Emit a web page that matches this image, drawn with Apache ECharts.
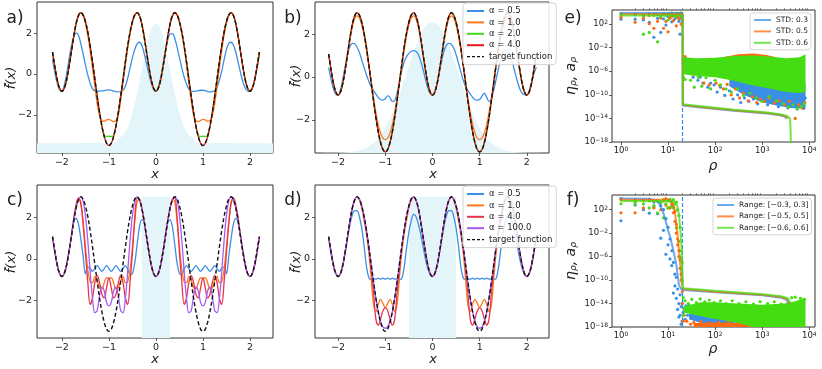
<!DOCTYPE html>
<html>
<head>
<meta charset="utf-8">
<title>fig</title>
<script src="https://cdn.jsdelivr.net/npm/echarts@6.0.0/dist/echarts.min.js"></script>
<style>
  html, body { margin: 0; padding: 0; background: #fff; }
  #chart { width: 822px; height: 369px; }
</style>
</head>
<body>
<div id="chart"></div>
<script>
  // ---- panels a-d : sample positions and curves ----
  const xGrid = [
    -2.2, -2.15, -2.1, -2.05, -2.0, -1.95, -1.9, -1.85, -1.8,
    -1.75, -1.7, -1.65, -1.6, -1.55, -1.5, -1.45, -1.4, -1.35,
    -1.3, -1.25, -1.2, -1.15, -1.1, -1.05, -1.0, -0.95, -0.9,
    -0.85, -0.8, -0.75, -0.7, -0.65, -0.6, -0.55, -0.5, -0.45,
    -0.4, -0.35, -0.3, -0.25, -0.2, -0.15, -0.1, -0.05, 0,
    0.05, 0.1, 0.15, 0.2, 0.25, 0.3, 0.35, 0.4, 0.45,
    0.5, 0.55, 0.6, 0.65, 0.7, 0.75, 0.8, 0.85, 0.9,
    0.95, 1.0, 1.05, 1.1, 1.15, 1.2, 1.25, 1.3, 1.35,
    1.4, 1.45, 1.5, 1.55, 1.6, 1.65, 1.7, 1.75, 1.8,
    1.85, 1.9, 1.95, 2.0, 2.05, 2.1, 2.15, 2.2
  ];

  const target = [
    1.07, 0.34, -0.29, -0.70, -0.85, -0.70, -0.29, 0.34, 1.07,
    1.81, 2.44, 2.85, 3.00, 2.89, 2.56, 2.05, 1.38, 0.59,
    -0.25, -1.09, -1.88, -2.55, -3.06, -3.39, -3.50, -3.39, -3.06,
    -2.55, -1.88, -1.09, -0.25, 0.59, 1.38, 2.05, 2.56, 2.89,
    3.00, 2.85, 2.44, 1.81, 1.07, 0.34, -0.29, -0.70, -0.85,
    -0.70, -0.29, 0.34, 1.07, 1.81, 2.44, 2.85, 3.00, 2.89,
    2.56, 2.05, 1.38, 0.59, -0.25, -1.09, -1.88, -2.55, -3.06,
    -3.39, -3.50, -3.39, -3.06, -2.55, -1.88, -1.09, -0.25, 0.59,
    1.38, 2.05, 2.56, 2.89, 3.00, 2.85, 2.44, 1.81, 1.07,
    0.34, -0.29, -0.70, -0.85, -0.70, -0.29, 0.34, 1.07
  ];

  const aBlue = [
    0.72, 0.05, -0.45, -0.78, -0.85, -0.55, 0.00, 0.70, 1.35,
    1.80, 2.00, 1.90, 1.50, 1.00, 0.45, -0.05, -0.45, -0.72,
    -0.83, -0.84, -0.84, -0.83, -0.82, -0.79, -0.78, -0.80, -0.84,
    -0.87, -0.88, -0.86, -0.80, -0.60, -0.20, 0.30, 0.80, 1.20,
    1.47, 1.55, 1.40, 1.00, 0.50, 0.00, -0.45, -0.75, -0.85,
    -0.65, -0.20, 0.45, 1.10, 1.65, 1.95, 1.97, 1.75, 1.30,
    0.80, 0.30, -0.15, -0.50, -0.75, -0.84, -0.85, -0.84, -0.82,
    -0.80, -0.80, -0.82, -0.86, -0.88, -0.86, -0.82, -0.65, -0.30,
    0.15, 0.70, 1.20, 1.50, 1.55, 1.40, 1.05, 0.55, 0.05,
    -0.40, -0.70, -0.83, -0.85, -0.68, -0.28, 0.30, 0.92
  ];
  const aOrange = [
    1.07, 0.34, -0.29, -0.70, -0.85, -0.70, -0.29, 0.34, 1.07,
    1.81, 2.44, 2.85, 3.00, 2.86, 2.48, 1.90, 1.15, 0.30,
    -0.60, -1.45, -2.05, -2.28, -2.32, -2.25, -2.22, -2.28, -2.33,
    -2.28, -2.00, -1.30, -0.45, 0.45, 1.30, 2.00, 2.52, 2.87,
    3.00, 2.85, 2.44, 1.81, 1.07, 0.34, -0.29, -0.70, -0.85,
    -0.70, -0.29, 0.34, 1.07, 1.81, 2.44, 2.85, 3.00, 2.87,
    2.52, 2.00, 1.30, 0.45, -0.45, -1.30, -2.00, -2.28, -2.33,
    -2.28, -2.22, -2.25, -2.32, -2.28, -2.05, -1.45, -0.60, 0.30,
    1.15, 1.90, 2.48, 2.86, 3.00, 2.85, 2.44, 1.81, 1.07,
    0.34, -0.29, -0.70, -0.85, -0.70, -0.29, 0.34, 1.07
  ];
  const aGreen = [
    1.07, 0.34, -0.29, -0.70, -0.85, -0.70, -0.29, 0.34, 1.07,
    1.81, 2.44, 2.85, 3.00, 2.89, 2.56, 2.05, 1.38, 0.59,
    -0.25, -1.09, -1.88, -2.55, -3.00, -3.06, -3.05, -3.06, -3.00,
    -2.55, -1.88, -1.09, -0.25, 0.59, 1.38, 2.05, 2.56, 2.89,
    3.00, 2.85, 2.44, 1.81, 1.07, 0.34, -0.29, -0.70, -0.85,
    -0.70, -0.29, 0.34, 1.07, 1.81, 2.44, 2.85, 3.00, 2.89,
    2.56, 2.05, 1.38, 0.59, -0.25, -1.09, -1.88, -2.55, -3.00,
    -3.06, -3.05, -3.06, -3.00, -2.55, -1.88, -1.09, -0.25, 0.59,
    1.38, 2.05, 2.56, 2.89, 3.00, 2.85, 2.44, 1.81, 1.07,
    0.34, -0.29, -0.70, -0.85, -0.70, -0.29, 0.34, 1.07
  ];

  const bBlue = [
    0.45, -0.10, -0.55, -0.80, -0.85, -0.60, -0.10, 0.50, 1.05,
    1.42, 1.57, 1.55, 1.40, 1.15, 0.80, 0.45, 0.10, -0.20,
    -0.45, -0.62, -0.80, -0.95, -1.05, -1.08, -1.02, -0.88, -0.95,
    -1.15, -1.10, -0.75, -0.20, 0.30, 0.70, 0.95, 1.10, 1.20,
    1.23, 1.20, 1.05, 0.75, 0.35, -0.10, -0.50, -0.77, -0.85,
    -0.70, -0.30, 0.25, 0.80, 1.25, 1.50, 1.57, 1.52, 1.35,
    1.05, 0.65, 0.25, -0.15, -0.45, -0.62, -0.80, -0.95, -1.05,
    -1.08, -1.05, -0.90, -0.75, -0.95, -1.15, -1.00, -0.60, -0.10,
    0.40, 0.85, 1.15, 1.25, 1.20, 1.00, 0.65, 0.20, -0.20,
    -0.55, -0.75, -0.83, -0.85, -0.65, -0.25, 0.15, 0.45
  ];
  const bOrange = [
    1.05, 0.33, -0.29, -0.70, -0.85, -0.70, -0.29, 0.32, 1.03,
    1.72, 2.32, 2.72, 2.85, 2.75, 2.43, 1.93, 1.28, 0.55,
    -0.22, -0.98, -1.65, -2.22, -2.62, -2.86, -2.93, -2.86, -2.62,
    -2.22, -1.65, -0.98, -0.22, 0.55, 1.28, 1.93, 2.43, 2.75,
    2.85, 2.72, 2.32, 1.72, 1.03, 0.32, -0.29, -0.70, -0.85,
    -0.70, -0.29, 0.32, 1.03, 1.72, 2.32, 2.72, 2.85, 2.75,
    2.43, 1.93, 1.28, 0.55, -0.22, -0.98, -1.65, -2.22, -2.62,
    -2.86, -2.93, -2.86, -2.62, -2.22, -1.65, -0.98, -0.22, 0.55,
    1.28, 1.93, 2.43, 2.75, 2.85, 2.72, 2.32, 1.72, 1.03,
    0.32, -0.29, -0.70, -0.85, -0.70, -0.29, 0.33, 1.05
  ];

  const cBlue = [
    1.07, 0.34, -0.29, -0.70, -0.85, -0.70, -0.29, 0.34, 1.07,
    1.75, 1.96, 1.70, 1.00, 0.15, -0.72, -0.38, -0.45, -0.60,
    -0.47, -0.32, -0.47, -0.60, -0.47, -0.32, -0.47, -0.60, -0.47,
    -0.32, -0.47, -0.60, -0.47, -0.32, -0.50, -0.75, -0.70, -0.20,
    0.70, 1.55, 1.90, 1.78, 1.07, 0.34, -0.29, -0.70, -0.85,
    -0.70, -0.29, 0.34, 1.07, 1.78, 1.90, 1.55, 0.70, -0.20,
    -0.70, -0.75, -0.50, -0.32, -0.47, -0.60, -0.47, -0.32, -0.47,
    -0.60, -0.47, -0.32, -0.47, -0.60, -0.47, -0.32, -0.47, -0.60,
    -0.45, -0.38, -0.72, 0.15, 1.00, 1.70, 1.96, 1.75, 1.07,
    0.34, -0.29, -0.70, -0.85, -0.70, -0.29, 0.34, 1.07
  ];
  const cOrange = [
    1.07, 0.34, -0.29, -0.70, -0.85, -0.70, -0.29, 0.34, 1.07,
    1.81, 2.50, 2.90, 2.75, 1.80, 0.60, -0.50, -1.10, -1.15,
    -0.85, -1.05, -1.40, -1.45, -1.15, -0.90, -0.95, -0.90, -1.15,
    -1.45, -1.40, -1.05, -0.85, -1.15, -1.10, -0.50, 0.60, 1.80,
    2.75, 2.90, 2.44, 1.81, 1.07, 0.34, -0.29, -0.70, -0.85,
    -0.70, -0.29, 0.34, 1.07, 1.81, 2.44, 2.90, 2.75, 1.80,
    0.60, -0.50, -1.10, -1.15, -0.85, -1.05, -1.40, -1.45, -1.15,
    -0.90, -0.95, -0.90, -1.15, -1.45, -1.40, -1.05, -0.85, -1.15,
    -1.10, -0.50, 0.60, 1.80, 2.75, 2.90, 2.50, 1.81, 1.07,
    0.34, -0.29, -0.70, -0.85, -0.70, -0.29, 0.34, 1.07
  ];
  const cRed = [
    1.07, 0.34, -0.29, -0.70, -0.85, -0.70, -0.29, 0.34, 1.07,
    1.95, 2.60, 2.95, 2.70, 1.70, 0.30, -1.10, -2.20, -1.90,
    -1.15, -0.80, -1.15, -1.70, -1.88, -1.40, -0.90, -1.40, -1.88,
    -1.70, -1.15, -0.80, -1.15, -1.90, -2.20, -1.10, 0.30, 2.00,
    2.95, 2.85, 2.44, 1.81, 1.07, 0.34, -0.29, -0.70, -0.85,
    -0.70, -0.29, 0.34, 1.07, 1.81, 2.44, 2.85, 2.95, 2.00,
    0.30, -1.10, -2.20, -1.90, -1.15, -0.80, -1.15, -1.70, -1.88,
    -1.40, -0.90, -1.40, -1.88, -1.70, -1.15, -0.80, -1.15, -1.90,
    -2.20, -1.10, 0.30, 1.70, 2.70, 2.95, 2.60, 1.95, 1.07,
    0.34, -0.29, -0.70, -0.85, -0.70, -0.29, 0.34, 1.07
  ];
  const cPurple = [
    1.07, 0.34, -0.29, -0.70, -0.85, -0.70, -0.29, 0.34, 1.07,
    1.81, 2.44, 2.85, 3.00, 2.80, 2.10, 0.90, -0.60, -1.90,
    -2.60, -2.50, -1.80, -1.35, -1.55, -2.10, -2.27, -2.10, -1.55,
    -1.35, -1.80, -2.50, -2.60, -1.90, -0.60, 0.90, 2.10, 2.80,
    3.00, 2.85, 2.44, 1.81, 1.07, 0.34, -0.29, -0.70, -0.85,
    -0.70, -0.29, 0.34, 1.07, 1.81, 2.44, 2.85, 3.00, 2.80,
    2.10, 0.90, -0.60, -1.90, -2.60, -2.50, -1.80, -1.35, -1.55,
    -2.10, -2.27, -2.10, -1.55, -1.35, -1.80, -2.50, -2.60, -1.90,
    -0.60, 0.90, 2.10, 2.80, 3.00, 2.85, 2.44, 1.81, 1.07,
    0.34, -0.29, -0.70, -0.85, -0.70, -0.29, 0.34, 1.07
  ];

  const dBlue = [
    0.95, 0.25, -0.33, -0.72, -0.85, -0.72, -0.33, 0.30, 1.00,
    1.65, 2.12, 2.33, 2.33, 2.05, 1.50, 0.65, -0.35, -0.90,
    -1.00, -0.95, -0.98, -0.93, -0.98, -0.93, -0.98, -0.93, -0.98,
    -0.93, -0.98, -0.95, -1.00, -0.95, -0.40, 0.50, 1.30, 1.85,
    2.15, 2.05, 1.70, 1.20, 0.60, 0.00, -0.45, -0.75, -0.85,
    -0.72, -0.33, 0.30, 1.00, 1.65, 2.12, 2.33, 2.33, 2.05,
    1.50, 0.65, -0.35, -0.90, -1.00, -0.95, -0.98, -0.93, -0.98,
    -0.93, -0.98, -0.93, -0.98, -0.93, -0.98, -0.95, -1.00, -0.95,
    -0.40, 0.50, 1.30, 1.85, 2.15, 2.05, 1.70, 1.20, 0.60,
    0.00, -0.45, -0.75, -0.85, -0.72, -0.33, 0.30, 0.95
  ];
  const dOrange = [
    1.07, 0.34, -0.29, -0.70, -0.85, -0.70, -0.29, 0.34, 1.07,
    1.81, 2.44, 2.85, 3.00, 2.85, 2.45, 1.85, 1.20, 0.30,
    -0.90, -2.20, -2.55, -2.20, -1.95, -2.15, -2.35, -2.15, -1.95,
    -2.20, -2.55, -2.20, -0.90, 0.30, 1.20, 1.85, 2.45, 2.85,
    3.00, 2.85, 2.44, 1.81, 1.07, 0.34, -0.29, -0.70, -0.85,
    -0.70, -0.29, 0.34, 1.07, 1.81, 2.44, 2.85, 3.00, 2.85,
    2.45, 1.85, 1.20, 0.30, -0.90, -2.20, -2.55, -2.20, -1.95,
    -2.15, -2.35, -2.15, -1.95, -2.20, -2.55, -2.20, -0.90, 0.30,
    1.20, 1.85, 2.45, 2.85, 3.00, 2.85, 2.44, 1.81, 1.07,
    0.34, -0.29, -0.70, -0.85, -0.70, -0.29, 0.34, 1.07
  ];
  const dRed = [
    1.07, 0.34, -0.29, -0.70, -0.85, -0.70, -0.29, 0.34, 1.07,
    1.81, 2.44, 2.85, 3.00, 2.89, 2.56, 2.05, 1.38, 0.59,
    -0.50, -1.60, -2.90, -3.20, -2.90, -2.50, -2.35, -2.50, -2.90,
    -3.20, -2.90, -1.60, -0.50, 0.59, 1.38, 2.05, 2.56, 2.89,
    3.00, 2.85, 2.44, 1.81, 1.07, 0.34, -0.29, -0.70, -0.85,
    -0.70, -0.29, 0.34, 1.07, 1.81, 2.44, 2.85, 3.00, 2.89,
    2.56, 2.05, 1.38, 0.59, -0.50, -1.60, -2.90, -3.20, -2.90,
    -2.50, -2.35, -2.50, -2.90, -3.20, -2.90, -1.60, -0.50, 0.59,
    1.38, 2.05, 2.56, 2.89, 3.00, 2.85, 2.44, 1.81, 1.07,
    0.34, -0.29, -0.70, -0.85, -0.70, -0.29, 0.34, 1.07
  ];
  const dPurple = [
    1.07, 0.34, -0.29, -0.70, -0.85, -0.70, -0.29, 0.34, 1.07,
    1.81, 2.44, 2.85, 3.00, 2.89, 2.56, 2.05, 1.38, 0.59,
    -0.25, -1.09, -1.88, -2.55, -3.00, -3.28, -3.35, -3.28, -3.00,
    -2.55, -1.88, -1.09, -0.25, 0.59, 1.38, 2.05, 2.56, 2.89,
    3.00, 2.85, 2.44, 1.81, 1.07, 0.34, -0.29, -0.70, -0.85,
    -0.70, -0.29, 0.34, 1.07, 1.81, 2.44, 2.85, 3.00, 2.89,
    2.56, 2.05, 1.38, 0.59, -0.25, -1.09, -1.88, -2.55, -3.00,
    -3.28, -3.35, -3.28, -3.00, -2.55, -1.88, -1.09, -0.25, 0.59,
    1.38, 2.05, 2.56, 2.89, 3.00, 2.85, 2.44, 1.81, 1.07,
    0.34, -0.29, -0.70, -0.85, -0.70, -0.29, 0.34, 1.07
  ];

  // input distributions shown as shading
  const aShadeX = [-2.55, -0.9, -0.8, -0.7, -0.6, -0.5, -0.4, -0.3, -0.2, -0.1, 0, 0.1, 0.2, 0.3, 0.4, 0.5, 0.6, 0.7, 0.8, 0.9, 2.55];
  const aShadeY = [-3.40, -3.36, -3.20, -2.98, -2.58, -1.91, -0.96, 0.19, 1.32, 2.17, 2.49, 2.17, 1.32, 0.19, -0.96, -1.91, -2.58, -2.98, -3.20, -3.36, -3.40];
  const bShadeX = [-2.55, -1.9, -1.6, -1.4, -1.2, -1.0, -0.9, -0.8, -0.7, -0.6, -0.5, -0.4, -0.3, -0.2, -0.1, 0, 0.1, 0.2, 0.3, 0.4, 0.5, 0.6, 0.7, 0.8, 0.9, 1.0, 1.2, 1.4, 1.6, 1.9, 2.55];
  const bShadeY = [-3.55, -3.53, -3.46, -3.31, -2.98, -2.38, -1.95, -1.43, -0.83, -0.17, 0.50, 1.15, 1.72, 2.18, 2.47, 2.57, 2.47, 2.18, 1.72, 1.15, 0.50, -0.17, -0.83, -1.43, -1.95, -2.38, -2.98, -3.31, -3.46, -3.53, -3.55];
  const cBox = [-0.3, 0.3];
  const dBox = [-0.5, 0.5];
  const boxTop = [3.0, 3.0];

  // ---- panels e, f : rho vs eta_rho / a_rho ----
  const rhoCut = 20;
  const eLine03 = [[1, 8e3], [20.3, 8e3], [20.6, 1.5e-12], [50, 7e-13], [250, 2e-13], [1260, 7e-14], [2400, 3.5e-14], [3000, 2e-14], [3300, 1e-14]];
  const eLine05 = [[1, 5e3], [20.3, 5e3], [20.6, 2e-12], [50, 9e-13], [250, 2.5e-13], [1260, 8e-14], [2400, 4e-14], [3200, 2e-14], [3500, 1e-14]];
  const eLine06 = [[1, 3e3], [20.3, 3e3], [20.6, 2.5e-12], [50, 1.2e-12], [250, 3e-13], [1260, 1e-13], [2400, 5e-14], [3400, 2.5e-14], [3900, 1e-14], [4000, 1e-16], [4050, 1e-19]];

  const eGreenTop = [[21, 2.5e-4], [40, 1.6e-4], [100, 2e-4], [250, 4e-4], [630, 5e-4], [1600, 3e-4], [3200, 1.6e-4], [6300, 2.5e-4], [8300, 8e-4]];
  const eGreenBottom = [[21, 3e-7], [40, 1.6e-7], [100, 1e-7], [250, 2.5e-8], [630, 4e-9], [1600, 1e-9], [3200, 3e-10], [6300, 2e-10], [8300, 3e-10]];
  const eBlueTop = [[200, 1e-7], [1000, 1e-8], [8300, 1e-8]];
  const eBlueBottom = [[200, 3e-9], [400, 1e-10], [1000, 5e-12], [2000, 1.6e-12], [4000, 6e-13], [8300, 5e-13]];
  const eOrangeTop = [[160, 3e-4], [320, 8e-4], [630, 1e-3], [1250, 6e-4], [2000, 2.5e-4]];
  const eOrangeBottom = [[160, 1.6e-4], [2000, 1.3e-4]];

  const eBlueDots = [
    [1, 7e2], [1, 6e3], [2, 7e2], [2, 4e3], [3, 5e2], [3, 3e3], [4, 2e2], [5, 0.6], [5, 5e3], [6, 1e3], [7, 4], [7, 3e3],
    [8, 8e2], [9, 70], [9, 4e3], [10, 2e3], [11, 5e3], [12, 2.5e2], [13, 3e3], [14, 8e2], [15, 6e3], [16, 1.5e3], [17, 3e2],
    [18, 2], [18, 4e3], [19, 1e3], [20, 3e2],
    [21, 3e-5], [22, 1e-6], [23, 2e-4], [24, 3e-6], [26, 5e-5], [28, 1e-6], [31, 8e-6], [34, 1e-7], [38, 2e-6], [43, 3e-8],
    [48, 1e-7], [55, 1e-8], [62, 3e-7], [70, 2e-9], [80, 1e-8], [95, 5e-9], [110, 3e-10], [130, 2e-9], [160, 8e-11],
    [200, 5e-10], [240, 2e-11], [300, 1e-10], [350, 5e-12], [420, 3e-11], [520, 8e-12], [650, 2e-11], [800, 3e-12],
    [1000, 1e-11], [1300, 2e-12], [1700, 5e-12], [2200, 1e-12], [2800, 3e-12], [3500, 6e-13], [4500, 2e-12],
    [5500, 4e-13], [6500, 1.5e-12], [7500, 5e-13], [8200, 3e-11]
  ];
  const eOrangeDots = [
    [1, 1.5e3], [2, 2e2], [3, 1e3], [4, 1.2e2], [4, 3e3], [5, 2e1], [6, 3e2], [6, 4e3], [7, 1e3], [8, 2e1], [8, 5e3],
    [9, 3e2], [10, 5], [11, 1e3], [12, 2e3], [13, 4e2], [14, 4e3], [15, 50], [16, 2e3], [17, 8e2], [18, 6e3], [19, 1e2], [20, 1e3],
    [21, 1e-4], [22, 8e-6], [23, 3e-4], [25, 3e-6], [27, 4e-5], [30, 1e-6], [34, 3e-7], [38, 5e-5], [42, 2e-6], [50, 3e-7],
    [58, 1e-8], [66, 1e-6], [75, 5e-9], [90, 2e-7], [105, 1e-8], [125, 4e-9], [150, 1e-9], [180, 6e-9], [220, 1e-10],
    [270, 1e-9], [330, 3e-11], [400, 2e-10], [500, 1e-11], [620, 5e-11], [760, 5e-12], [900, 2e-11], [1100, 8e-12],
    [1400, 3e-11], [1800, 4e-12], [2300, 1e-11], [3000, 2e-12], [3800, 8e-12], [5000, 1e-14], [6000, 2e-12], [7000, 6e-13], [8000, 5e-12]
  ];
  const eGreenDots = [
    [1, 4e3], [2, 5e3], [3, 2], [3, 3e3], [4, 4], [4, 6e3], [5, 3e3], [6, 0.1], [6, 5e3], [7, 2e3], [8, 6e3], [9, 3e3],
    [10, 5e2], [10, 6e3], [11, 3e3], [12, 8e3], [13, 5e3], [14, 2e3], [15, 7e3], [16, 4e3], [17, 6e3], [18, 3e3], [19, 8e3], [20, 2e3],
    [21, 1e-7], [23, 4e-8], [26, 1e-6], [30, 3e-8], [36, 2e-9], [44, 1e-7], [52, 3e-9], [64, 8e-8], [80, 1e-9], [100, 3e-8],
    [130, 5e-9], [170, 1e-9], [220, 3e-10], [300, 1e-9], [400, 8e-11], [550, 2e-10], [750, 3e-11], [1000, 8e-12],
    [1400, 5e-11], [2000, 1e-11], [2800, 3e-12], [3600, 8e-13], [4500, 2e-12], [5600, 5e-13], [6800, 1e-12], [7800, 3e-12]
  ];

  const fLine03 = [[1, 8e3], [4, 7e3], [5.5, 4e3], [6.5, 1e3], [7.5, 1e2], [8.5, 5], [10, 3e-2], [11.2, 1.6e-3], [13, 1e-5], [15, 4e-8], [17, 1.6e-11], [19, 3e-12], [21, 2e-12], [100, 8e-13], [1000, 2.5e-13], [2500, 1e-13], [3200, 5e-14], [3600, 1e-14]];
  const fLine05 = [[1, 5e3], [10, 5e3], [12, 3e3], [13.5, 2e2], [14.5, 4], [16.2, 1.6e-3], [18.2, 4e-8], [19.5, 3e-11], [21, 3e-12], [100, 1e-12], [1000, 3e-13], [2500, 1.3e-13], [3400, 6e-14], [3800, 1e-14]];
  const fLine06 = [[1, 3e3], [13, 3e3], [15, 1.5e3], [17, 2e1], [18.5, 1e-2], [19.5, 1e-5], [20.3, 1e-9], [20.8, 4e-12], [100, 1.5e-12], [1000, 4e-13], [2500, 1.8e-13], [3500, 8e-14], [3900, 1.5e-14]];

  const fGreenTop = [[21, 3e-15], [30, 6e-15], [50, 1.6e-14], [100, 1.6e-14], [300, 1e-14], [1000, 6e-15], [3000, 1e-14], [5000, 2.5e-14], [8300, 1e-13]];
  const fGreenBottom = [[21, 3e-16], [40, 1e-16], [80, 3e-17], [200, 1e-17], [400, 3e-18], [600, 1e-18], [8300, 1e-18]];
  const fBlueTop = [[28, 2e-16], [60, 2e-16], [140, 1e-16], [280, 3e-17]];
  const fBlueBottom = [[28, 2e-17], [60, 3e-18], [140, 3e-18], [280, 6e-18]];
  const fOrangeTop = [[35, 5e-18], [100, 6e-18], [300, 5e-18], [700, 3e-18]];
  const fOrangeBottom = [[35, 1e-18], [700, 1e-18]];

  const fBlueDots = [
    [1, 1.3], [1, 8e3], [2, 5e3], [2, 6e2], [3, 4e3], [3, 1e2], [4, 25], [4, 6e3], [5, 2e3], [5, 3e2], [6, 3e3], [6, 20],
    [7, 1.4e-3], [7, 5e2], [8, 3e-2], [8, 1e2], [9, 2.5e-6], [9, 3], [10, 1e-1], [10, 1e-4], [11, 4e-7], [11, 1e-3],
    [12, 1e-5], [12, 3e-8], [13, 6e-13], [13, 1e-7], [14, 1e-9], [14, 1e-11], [15, 8e-14], [15, 3e-10], [16, 3e-12],
    [16, 1e-15], [17, 1e-14], [17, 5e-17], [18, 1e-16], [18, 3e-13], [19, 3e-15], [19, 3e-18], [20, 1e-17], [20, 1e-14], [21, 3e-16],
    [22, 1e-15], [23, 2e-17], [24, 4e-15], [26, 1e-16], [28, 5e-15], [31, 3e-17], [34, 1e-15], [38, 3e-16], [45, 1e-15],
    [52, 3e-17], [60, 6e-16], [70, 2e-16], [85, 1e-15], [100, 5e-17], [120, 4e-16], [150, 2e-17], [190, 2e-16], [250, 5e-17],
    [320, 1e-16], [450, 2e-17], [700, 1e-17], [1100, 3e-18], [1800, 2e-18]
  ];
  const fOrangeDots = [
    [1, 30], [1, 5e3], [2, 30], [2, 3e3], [3, 4e3], [3, 2e2], [4, 5e3], [5, 3e3], [5, 2e2], [6, 4e3], [7, 2e3], [7, 1e2],
    [8, 3e3], [9, 6e2], [9, 8e3], [10, 2e2], [10, 4e3], [11, 3e3], [11, 2e2], [12, 1e3], [12, 5e2], [13, 30], [13, 3e2],
    [14, 1], [14, 50], [15, 1e-2], [15, 0.3], [16, 1e-4], [16, 1e-3], [17, 1e-6], [17, 1e-5], [18, 1e-8], [18, 3e-7],
    [19, 1e-10], [19, 1e-9], [20, 1e-12], [20, 1e-14], [21, 1e-17], [22, 1e-16],
    [25, 1e-17], [30, 3e-18], [35, 6e-18], [42, 2e-18], [50, 8e-18], [60, 2e-18], [75, 5e-18], [95, 2e-18], [120, 6e-18],
    [150, 3e-18], [190, 8e-18], [240, 2e-18], [300, 5e-18], [380, 3e-18], [480, 2e-18], [600, 4e-18], [750, 2e-18], [900, 1.5e-18]
  ];
  const fGreenDots = [
    [1, 1e3], [2, 1e3], [2, 2e3], [3, 1e3], [4, 2e2], [4, 3e3], [5, 5e2], [6, 30], [6, 3e3], [7, 2e3], [8, 4], [8, 5e3],
    [9, 1e3], [10, 3e3], [10, 2e2], [11, 6e3], [12, 2e3], [12, 3e2], [13, 2e2], [13, 5e3], [14, 1e3], [15, 0.08], [15, 2e3],
    [16, 1e2], [17, 4e-4], [17, 10], [18, 8e-7], [18, 1e-1], [19, 1e-5], [19, 1e-8], [20, 1e-7], [20, 1e-10], [21, 1e-13], [21, 1e-16],
    [23, 3e-14], [27, 1e-14], [32, 5e-14], [40, 1.5e-14], [48, 6e-14], [60, 2e-14], [75, 4e-14], [95, 1.5e-14], [130, 3e-14],
    [170, 1e-14], [230, 3e-14], [320, 1e-14], [450, 2e-14], [650, 8e-15], [900, 2e-14], [1300, 1e-14], [1800, 2e-14],
    [2500, 8e-15], [4200, 1e-13], [5000, 1.2e-13], [6500, 8e-14], [7800, 5e-14]
  ];

  // ---- styling ----
  const FONT = 'DejaVu Sans';
  const INK = '#222';
  const BLUE = '#3b8fe6', ORANGE = '#fb7a1c', GREEN = '#3bdc14', RED = '#e31a1c', RED2 = '#e8334a', PURPLE = '#a65cf2';
  const SHADE = '#e3f5f8';
  const E_BLUE = '#3a8ee6', E_ORANGE = '#ff6a10', E_GREEN = '#44dd11';

  const minus = v => (v < 0 ? '\u2212' + Math.abs(v) : String(v));
  const lg = p => [Math.log10(p[0]), Math.log10(p[1])];

  const grids = [
    { left: 37, top: 2, width: 236, height: 151 },
    { left: 315, top: 2, width: 234, height: 151 },
    { left: 37, top: 185, width: 236, height: 153 },
    { left: 315, top: 185, width: 234, height: 153 },
    { left: 612, top: 10, width: 203, height: 132 },
    { left: 612, top: 195, width: 203, height: 132 }
  ];
  const xRange = [[-2.53, 2.49], [-2.49, 2.47], [-2.53, 2.49], [-2.49, 2.47], [-0.19, 4.12], [-0.19, 4.12]];
  const yRange = [[-3.87, 3.52], [-3.55, 3.5], [-3.82, 3.57], [-3.82, 3.57], [-18, 4.4], [-18, 4.5]];

  const linTicksX = [-2, -1, 0, 1, 2];
  const linTicksY = [-2, 0, 2];
  const logTicksX = [0, 1, 2, 3, 4];
  const logTicksY = [-18, -14, -10, -6, -2, 2];
  const minorRho = [];
  [1, 10, 100, 1000].forEach(d => [2, 3, 4, 5, 6, 7, 8, 9].forEach(m => minorRho.push(Math.log10(m * d))));

  const supRich = {
    b: { fontFamily: FONT, fontSize: 8.5, color: INK },
    s: { fontFamily: FONT, fontSize: 6, color: INK, verticalAlign: 'top' }
  };

  function axis(g, isX) {
    const log = g >= 4;
    const ticks = log ? (isX ? logTicksX : logTicksY) : (isX ? linTicksX : linTicksY);
    const r = isX ? xRange[g] : yRange[g];
    return {
      type: 'value', gridIndex: g, min: r[0], max: r[1],
      axisLine: { show: false, onZero: false }, splitLine: { show: false },
      axisTick: { show: true, length: 3, customValues: ticks, lineStyle: { color: '#333', width: 0.8 } },
      axisLabel: {
        customValues: ticks, margin: log ? 4 : 5, color: INK, fontFamily: FONT, fontSize: 9.5,
        formatter: log ? (v => '{b|10}{s|' + minus(v) + '}') : minus,
        rich: log ? supRich : undefined
      }
    };
  }

  const xAxes = [0, 1, 2, 3, 4, 5].map(g => axis(g, true));
  [4, 5].forEach(g => xAxes.push({
    type: 'value', gridIndex: g, min: xRange[g][0], max: xRange[g][1],
    axisLine: { show: false, onZero: false }, splitLine: { show: false }, axisLabel: { show: false },
    axisTick: { show: true, length: 1.8, customValues: minorRho, lineStyle: { color: '#333', width: 0.6 } }
  }));
  const yAxes = [0, 1, 2, 3, 4, 5].map(g => axis(g, false));

  const series = [];
  function curve(g, name, ys, color, extra) {
    series.push(Object.assign({
      type: 'line', name, xAxisIndex: g, yAxisIndex: g,
      data: xGrid.map((x, i) => [x, ys[i]]),
      smooth: 0.35, symbol: 'none', silent: true, animation: false,
      lineStyle: { color, width: 1.3 }, itemStyle: { color }, z: 3
    }, extra || {}));
  }
  function targetCurve(g) {
    curve(g, 'target function', target, '#111', { lineStyle: { color: '#111', width: 1.4, type: [4, 2.5] }, z: 6 });
  }
  function shade(g, xs, ys, smooth) {
    series.push({
      type: 'line', xAxisIndex: g, yAxisIndex: g, data: xs.map((x, i) => [x, ys[i]]),
      smooth: smooth, symbol: 'none', silent: true, animation: false,
      lineStyle: { width: 0 }, areaStyle: { color: SHADE, opacity: 1, origin: 'start' }, z: 1
    });
  }
  function rhoLine(g, name, pts, color, extra) {
    series.push(Object.assign({
      type: 'line', name, xAxisIndex: g, yAxisIndex: g, data: pts.map(lg),
      symbol: 'none', silent: true, animation: false,
      lineStyle: { color, width: 2, opacity: 0.75 }, itemStyle: { color }, z: 20
    }, extra || {}));
  }
  function dots(g, pts, color, z) {
    series.push({
      type: 'scatter', xAxisIndex: g, yAxisIndex: g, data: pts.map(lg),
      symbol: 'circle', symbolSize: 3.2, silent: true, animation: false,
      itemStyle: { color, opacity: 1 }, z
    });
  }
  function band(g, top, bottom, color, z) {
    const poly = top.concat(bottom.slice().reverse()).map(lg);
    series.push({
      type: 'custom', xAxisIndex: g, yAxisIndex: g, data: [[0, 0]], clip: true, silent: true, animation: false, z,
      renderItem: (params, api) => ({
        type: 'polygon',
        shape: { points: poly.map(p => api.coord(p)) },
        style: { fill: color }
      })
    });
  }
  const cutLine = {
    silent: true, symbol: ['none', 'none'], label: { show: false }, animation: false,
    lineStyle: { color: BLUE, type: [4, 2], width: 1.2 },
    data: [{ xAxis: Math.log10(rhoCut) }]
  };

  // a)
  shade(0, aShadeX, aShadeY, 0.3);
  curve(0, 'α = 0.5', aBlue, BLUE);
  curve(0, 'α = 1.0', aOrange, ORANGE);
  curve(0, 'α = 2.0', aGreen, GREEN);
  curve(0, 'α = 4.0', target, RED);
  targetCurve(0);
  // b)
  shade(1, bShadeX, bShadeY, 0.3);
  curve(1, 'α = 0.5', bBlue, BLUE);
  curve(1, 'α = 1.0', bOrange, ORANGE);
  curve(1, 'α = 2.0', target, GREEN);
  curve(1, 'α = 4.0', target, RED);
  targetCurve(1);
  // c)
  shade(2, cBox, boxTop, false);
  curve(2, 'α = 0.5', cBlue, BLUE);
  curve(2, 'α = 1.0', cOrange, ORANGE);
  curve(2, 'α = 4.0', cRed, RED2);
  curve(2, 'α = 100.0', cPurple, PURPLE);
  targetCurve(2);
  // d)
  shade(3, dBox, boxTop, false);
  curve(3, 'α = 0.5', dBlue, BLUE);
  curve(3, 'α = 1.0', dOrange, ORANGE);
  curve(3, 'α = 4.0', dRed, RED2);
  curve(3, 'α = 100.0', dPurple, PURPLE);
  targetCurve(3);
  // e)
  band(4, eBlueTop, eBlueBottom, E_BLUE, 2);
  dots(4, eBlueDots, E_BLUE, 3);
  band(4, eOrangeTop, eOrangeBottom, E_ORANGE, 4);
  dots(4, eOrangeDots, E_ORANGE, 5);
  band(4, eGreenTop, eGreenBottom, E_GREEN, 6);
  dots(4, eGreenDots, E_GREEN, 7);
  rhoLine(4, 'STD: 0.3', eLine03, E_BLUE, { markLine: cutLine });
  rhoLine(4, 'STD: 0.5', eLine05, E_ORANGE);
  rhoLine(4, 'STD: 0.6', eLine06, E_GREEN);
  // f)
  band(5, fBlueTop, fBlueBottom, E_BLUE, 2);
  dots(5, fBlueDots, E_BLUE, 3);
  band(5, fOrangeTop, fOrangeBottom, E_ORANGE, 4);
  dots(5, fOrangeDots, E_ORANGE, 5);
  band(5, fGreenTop, fGreenBottom, E_GREEN, 6);
  dots(5, fGreenDots, E_GREEN, 7);
  rhoLine(5, 'Range: [\u22120.3, 0.3]', fLine03, E_BLUE, { markLine: cutLine });
  rhoLine(5, 'Range: [\u22120.5, 0.5]', fLine05, E_ORANGE);
  rhoLine(5, 'Range: [\u22120.6, 0.6]', fLine06, E_GREEN);

  function legendBox(left, top, names, fontSize, extra) {
    return Object.assign({
      orient: 'vertical', left, top, z: 30, selectedMode: false,
      backgroundColor: 'rgba(255,255,255,0.85)', borderColor: '#d4d4d4', borderWidth: 1, borderRadius: 3,
      padding: [3, 4, 3, 3], itemWidth: 17, itemHeight: 8, itemGap: 1.4,
      itemStyle: { color: 'transparent', borderColor: 'transparent', borderWidth: 0 },
      textStyle: { fontFamily: FONT, fontSize, color: INK, lineHeight: 10 },
      data: names
    }, extra || {});
  }
  const dashItem = { name: 'target function', lineStyle: { color: '#111', type: [3, 2], width: 1.4 } };

  const labelText = (x, y, text, size) => ({
    type: 'text', x, y, z: 100, silent: true,
    style: { text, fill: INK, font: size + 'px "' + FONT + '"', align: 'center', verticalAlign: 'middle' }
  });
  const italic = (x, y, text, size, rot) => ({
    type: 'text', x, y, z: 100, silent: true, rotation: rot || 0,
    style: { text, fill: INK, font: 'italic ' + size + 'px "' + FONT + '"', align: 'center', verticalAlign: 'middle' }
  });
  const etaRich = {
    i: { fontFamily: FONT, fontStyle: 'italic', fontSize: 14, fill: INK },
    u: { fontFamily: FONT, fontStyle: 'italic', fontSize: 9, fill: INK, verticalAlign: 'bottom' }
  };
  const etaLabel = (x, y) => ({
    type: 'text', x, y, z: 100, silent: true, rotation: Math.PI / 2,
    style: { text: '{i|η}{u|ρ}{i|, a}{u|ρ}', rich: etaRich, align: 'center', verticalAlign: 'middle' }
  });

  const option = {
    animation: false,
    backgroundColor: '#fff',
    grid: grids.map(g => Object.assign({ show: true, borderColor: '#333', borderWidth: 1, backgroundColor: 'transparent', outerBoundsMode: 'none' }, g)),
    xAxis: xAxes,
    yAxis: yAxes,
    legend: [
      legendBox(463, 3, ['α = 0.5', 'α = 1.0', 'α = 2.0', 'α = 4.0', dashItem], 8.5),
      legendBox(463, 186, ['α = 0.5', 'α = 1.0',
        { name: 'α = 4.0', lineStyle: { color: RED2 } },
        'α = 100.0', dashItem], 8.5),
      legendBox(750, 13, ['STD: 0.3', 'STD: 0.5', 'STD: 0.6'], 7.5, { padding: [2, 3, 2, 3] }),
      legendBox(713, 198, ['Range: [\u22120.3, 0.3]', 'Range: [\u22120.5, 0.5]', 'Range: [\u22120.6, 0.6]'], 7.5, { padding: [2, 3, 2, 3] })
    ],
    graphic: [
      labelText(15, 19, 'a)', 17), labelText(293, 19, 'b)', 17),
      labelText(15, 201, 'c)', 17), labelText(293, 201, 'd)', 17),
      labelText(573, 19, 'e)', 17), labelText(573, 201, 'f)', 17),
      italic(155, 175, 'x', 13), italic(433, 175, 'x', 13),
      italic(155, 360, 'x', 13), italic(433, 360, 'x', 13),
      italic(12, 78, 'f\u0304(x)', 13, Math.PI / 2), italic(297, 76, 'f\u0304(x)', 13, Math.PI / 2),
      italic(12, 262, 'f\u0303(x)', 13, Math.PI / 2), italic(297, 262, 'f\u0303(x)', 13, Math.PI / 2),
      italic(713, 166, 'ρ', 14), italic(713, 349, 'ρ', 14),
      etaLabel(571, 76), etaLabel(571, 261)
    ],
    series
  };

  const chart = echarts.init(document.getElementById('chart'), null, { renderer: 'canvas' });
  chart.setOption(option);
</script>
</body>
</html>
